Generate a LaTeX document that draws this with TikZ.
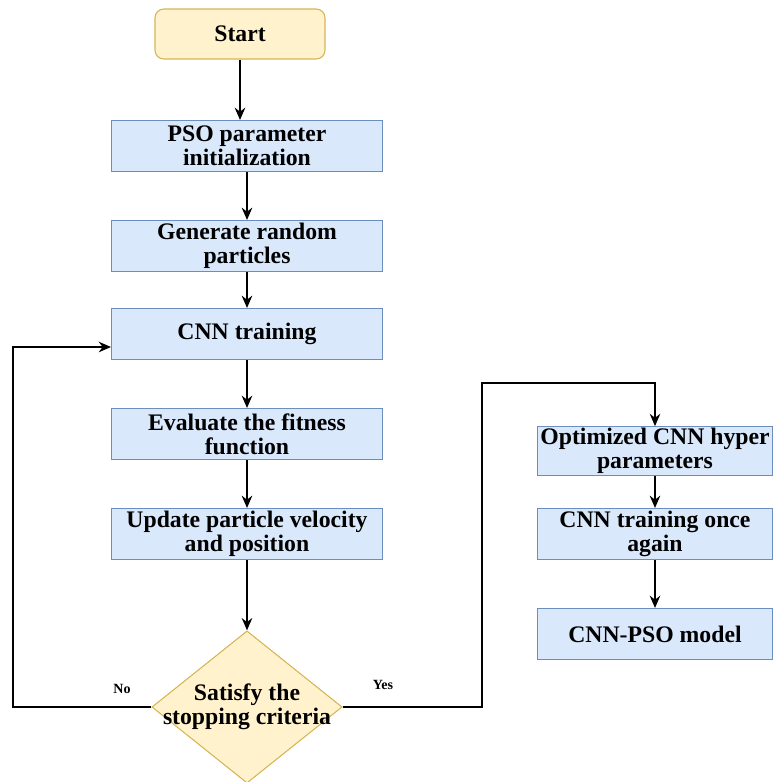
\documentclass[tikz,border=0pt]{standalone}
\usepackage{fontspec}
\setmainfont{Liberation Serif}
\usepackage{tikz}
\usetikzlibrary{shapes.geometric,arrows.meta}
\definecolor{boxblue}{HTML}{DAE8FC}
\definecolor{edgeblue}{HTML}{6C8EBF}
\definecolor{boxyellow}{HTML}{FFF2CC}
\definecolor{edgeyellow}{HTML}{D6B656}
\tikzset{
    procbox/.style={draw=edgeblue, fill=boxblue, line width=0.6pt, minimum width=5.42cm,
        minimum height=1.02cm, inner sep=1pt, align=center,
        font=\fontsize{13.5}{13.5}\selectfont\bfseries},
    startbox/.style={procbox, draw=edgeyellow, fill=boxyellow, rounded corners=5pt,
        minimum width=3.4cm, minimum height=1cm},
    decision/.style={diamond, aspect=1.25, draw=edgeyellow, fill=boxyellow, line width=0.6pt,
        inner sep=-4.4pt, align=center,
        font=\fontsize{13.5}{13.5}\selectfont\bfseries},
    flow/.style={-{Stealth[length=7pt,width=6pt]}, line width=0.8pt},
    tag/.style={font=\fontsize{8}{9}\selectfont\bfseries}
}
\begin{document}
\begin{tikzpicture}[x=0.02cm, y=-0.02cm]
    \useasboundingbox (0,0) rectangle (776,782);
    % main column
    \node[startbox] (start) at (240,34) {Start};
    \node[procbox] (init) at (247,146) {PSO parameter\\initialization};
    \node[procbox] (gen) at (247,246) {Generate random\\particles};
    \node[procbox] (train) at (247,334) {CNN training};
    \node[procbox] (fit) at (247,434) {Evaluate the fitness\\function};
    \node[procbox] (upd) at (247,534) {Update particle velocity\\and position};
    \node[decision] (stop) at (247,707) {Satisfy the\\stopping criteria};
    % right column
    \node[procbox, minimum width=4.7cm, minimum height=0.84cm] (opt) at (655,451) {Optimized CNN hyper\\parameters};
    \node[procbox, minimum width=4.7cm] (again) at (655,534) {CNN training once\\again};
    \node[procbox, minimum width=4.7cm] (model) at (655,634) {CNN-PSO model};
    \coordinate (noup) at (13,347);
    \coordinate (yesup) at (482,383);
    \draw[flow] (start.south) -- (start.south |- init.north);
    \draw[flow] (init) -- (gen);
    \draw[flow] (gen) -- (train);
    \draw[flow] (train) -- (fit);
    \draw[flow] (fit) -- (upd);
    \draw[flow] (upd) -- (stop);
    \draw[flow] (stop.west) -| (noup) -- (noup -| train.west);
    \draw[flow] (stop.east) -| (yesup) -| (opt.north);
    \draw[flow] (opt) -- (again);
    \draw[flow] (again) -- (model);
    \node[tag] (no) at (122,689) {No};
    \node[tag] (yes) at (383,685) {Yes};
\end{tikzpicture}
\end{document}
